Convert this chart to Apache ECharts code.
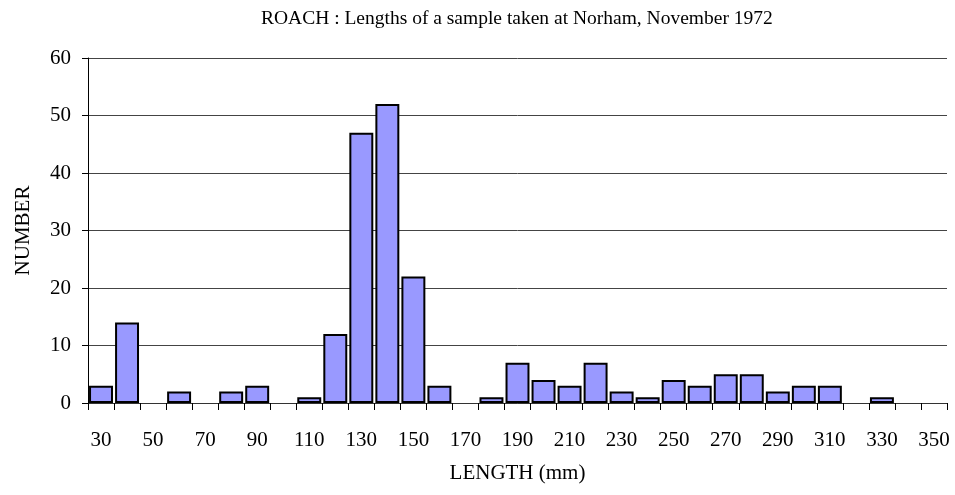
<!DOCTYPE html>
<html>
<head>
<meta charset="utf-8">
<script src="https://cdn.jsdelivr.net/npm/echarts@6/dist/echarts.min.js"></script>
<style>html,body{margin:0;padding:0;background:#fff}#c{width:955px;height:495px}</style>
</head>
<body>
<div id="c"></div>
<script>
const categories = ['30','40','50','60','70','80','90','100','110','120','130','140','150','160','170','180','190','200','210','220','230','240','250','260','270','280','290','300','310','320','330','340','350'];
const counts = [3,14,0,2,0,2,3,0,1,12,47,52,22,3,0,1,7,4,3,7,2,1,4,3,5,5,2,3,3,0,1,0,0];
const yTicks = [0,10,20,30,40,50,60];
const titleText = 'ROACH : Lengths of a sample taken at Norham, November 1972';
const xName = 'LENGTH (mm)';
const yName = 'NUMBER';

const font = 'Liberation Serif';
const chart = echarts.init(document.getElementById('c'), null, {renderer:'canvas'});
chart.setOption({
  animation:false,
  backgroundColor:'#fff',
  title:{text:titleText,left:256,top:4,textStyle:{fontFamily:font,fontSize:19.5,fontWeight:'normal',color:'#000'}},
  grid:{left:88,right:8,top:58,bottom:92,containLabel:false,outerBoundsMode:'none'},
  xAxis:{
    type:'category',data:categories,
    name:xName,nameLocation:'middle',nameGap:60,
    nameTextStyle:{fontFamily:font,fontSize:21,color:'#000'},
    axisLine:{lineStyle:{color:'#333',width:1}},
    axisTick:{show:true,alignWithLabel:false,interval:0,length:7,lineStyle:{color:'#000'}},
    axisLabel:{interval:1,fontFamily:font,fontSize:21,color:'#000',margin:27}
  },
  yAxis:{
    type:'value',min:yTicks[0],max:yTicks[yTicks.length-1],interval:10,
    name:yName,nameLocation:'middle',nameGap:54,nameRotate:90,
    nameTextStyle:{fontFamily:font,fontSize:21,color:'#000'},
    axisLine:{show:true,lineStyle:{color:'#000',width:1}},
    axisTick:{show:true,length:6,lineStyle:{color:'#000'}},
    axisLabel:{fontFamily:font,fontSize:21,color:'#000',margin:17},
    splitLine:{show:true,lineStyle:{color:'#444',width:1}}
  },
  series:[{
    type:'bar',data:counts.map(v => v === 0 ? null : v),barCategoryGap:'8%',
    itemStyle:{color:'#9999FF',borderColor:'#000',borderWidth:2}
  }]
});
</script>
</body>
</html>
